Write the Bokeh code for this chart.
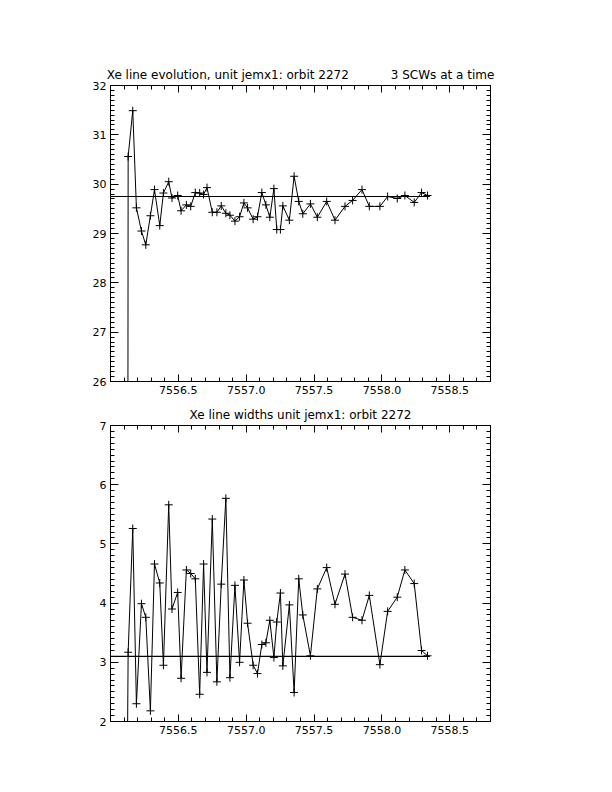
from bokeh.plotting import figure
from bokeh.models import (Range1d, LinearAxis, FixedTicker, PrintfTickFormatter,
                          CustomLabelingPolicy)
from bokeh.layouts import column
from bokeh.embed import file_html
from bokeh.resources import INLINE

# ---------------- data ----------------
time_days = [7556.120, 7556.130, 7556.164, 7556.191, 7556.228, 7556.260, 7556.294,
             7556.324, 7556.363, 7556.390, 7556.429, 7556.453, 7556.495, 7556.520,
             7556.559, 7556.591, 7556.625, 7556.657, 7556.686, 7556.711, 7556.750,
             7556.784, 7556.816, 7556.850, 7556.880, 7556.917, 7556.951, 7556.983,
             7557.010, 7557.051, 7557.083, 7557.115, 7557.145, 7557.174, 7557.204,
             7557.225, 7557.252, 7557.270, 7557.318, 7557.353, 7557.387, 7557.417,
             7557.473, 7557.524, 7557.593, 7557.654, 7557.728, 7557.784, 7557.853,
             7557.907, 7557.985, 7558.042, 7558.113, 7558.169, 7558.238, 7558.292,
             7558.336]

line_position = [0.0, 30.56, 31.49, 29.52, 29.05, 28.77, 29.36, 29.89, 29.16, 29.82,
                 30.05, 29.72, 29.77, 29.46, 29.58, 29.55, 29.83, 29.82, 29.79, 29.93,
                 29.43, 29.43, 29.56, 29.41, 29.37, 29.25, 29.34, 29.62, 29.52, 29.29,
                 29.34, 29.83, 29.58, 29.33, 29.91, 29.08, 29.08, 29.56, 29.27, 30.16,
                 29.65, 29.40, 29.60, 29.33, 29.65, 29.27, 29.55, 29.67, 29.89, 29.55,
                 29.55, 29.75, 29.71, 29.77, 29.63, 29.83, 29.77]

line_width_vals = [0.0, 3.17, 5.26, 2.30, 3.99, 3.76, 2.18, 4.66, 4.34, 2.95, 5.66,
                   3.90, 4.18, 2.73, 4.56, 4.50, 4.41, 2.46, 4.66, 2.83, 5.42, 2.67,
                   4.32, 5.77, 2.74, 4.30, 3.00, 4.39, 3.66, 2.95, 2.81, 3.30, 3.33,
                   3.71, 3.08, 3.68, 4.17, 2.94, 3.97, 2.49, 4.41, 3.80, 3.11, 4.24,
                   4.60, 3.98, 4.49, 3.76, 3.71, 4.13, 2.96, 3.86, 4.10, 4.56, 4.33,
                   3.20, 3.11]

position_mean = 29.75
width_mean = 3.10

x_major_ticks = [7556.5, 7557.0, 7557.5, 7558.0, 7558.5]
top_y_ticks = [26, 27, 28, 29, 30, 31, 32]
bottom_y_ticks = [2, 3, 4, 5, 6, 7]

title_top_left = "Xe line evolution, unit jemx1: orbit 2272"
title_top_right = "3 SCWs at a time"
title_bottom = "Xe line widths unit jemx1: orbit 2272"

# ---------------- styling ----------------
FONT = "DejaVu Sans"
TICK_SIZE = "11px"
TITLE_SIZE = "12px"
X_START, X_END = 7556.0, 7558.8
NBSP = "\u00a0"

hide_labels = CustomLabelingPolicy(code="""
try { for (const i of Array.from(indices)) { indices.unset(i) } } catch (e) {}
return indices
""")


def minor_list(lo, hi, step):
    n = int(round((hi - lo) / step))
    return [round(lo + i * step, 4) for i in range(n + 1)]


def style_axis(ax, tick_in, minor_in, labels=True, standoff=4):
    ax.axis_line_color = "black"
    ax.axis_line_width = 1
    ax.major_tick_line_color = "black"
    ax.minor_tick_line_color = "black"
    ax.major_tick_in = tick_in
    ax.major_tick_out = 0
    ax.minor_tick_in = minor_in
    ax.minor_tick_out = 0
    ax.major_label_text_font = FONT
    ax.major_label_text_font_size = TICK_SIZE
    ax.major_label_text_color = "black"
    ax.major_label_standoff = standoff
    if not labels:
        # mirror axis: ticks only, labels suppressed (and take no room)
        ax.major_label_policy = hide_labels
        ax.major_label_text_font_size = "1px"
        ax.major_label_standoff = 0


def make_fig(height, btop, bbot, ylo, yhi, yticks, yvals, mean):
    p = figure(width=600, height=height, output_backend="svg", toolbar_location=None,
               x_range=Range1d(X_START, X_END), y_range=Range1d(ylo, yhi),
               x_axis_type=None, y_axis_type=None,
               min_border_left=110, min_border_right=110,
               min_border_top=btop, min_border_bottom=bbot)
    p.background_fill_color = "white"
    p.border_fill_color = "white"
    p.outline_line_color = "black"
    p.outline_line_width = 1

    xt = FixedTicker(ticks=x_major_ticks, minor_ticks=minor_list(X_START, X_END, 0.1))
    yt = FixedTicker(ticks=yticks, minor_ticks=minor_list(ylo, yhi, 0.1))
    xf = PrintfTickFormatter(format="%.1f")

    bx = LinearAxis(ticker=xt, formatter=xf)
    style_axis(bx, 7, 4, True, 4)
    p.add_layout(bx, "below")
    tx = LinearAxis(ticker=xt, formatter=xf)
    style_axis(tx, 7, 4, False)
    p.add_layout(tx, "above")
    ly = LinearAxis(ticker=yt)
    style_axis(ly, 8, 4, True, 4)
    p.add_layout(ly, "left")
    ry = LinearAxis(ticker=yt)
    style_axis(ry, 8, 4, False)
    p.add_layout(ry, "right")

    p.title.text_font = FONT
    p.title.text_font_size = TITLE_SIZE
    p.title.text_font_style = "normal"
    p.title.text_color = "black"
    p.title.standoff = 0
    p.title.align = "center"

    p.line(time_days, yvals, line_color="black", line_width=1)
    p.scatter(time_days, yvals, marker="cross", size=8, line_color="black", line_width=1)
    p.line([X_START, max(time_days) + 0.017], [mean, mean], line_color="black", line_width=1.2)
    return p


p1 = make_fig(400, 85, 19, 26, 32, top_y_ticks, line_position, position_mean)
p1.title.text = title_top_left + NBSP * 11 + title_top_right

p2 = make_fig(351, 25, 30, 2, 7, bottom_y_ticks, line_width_vals, width_mean)
p2.title.text = title_bottom

layout = column(p1, p2, spacing=0)
open("out.html", "w").write(file_html(layout, INLINE))
